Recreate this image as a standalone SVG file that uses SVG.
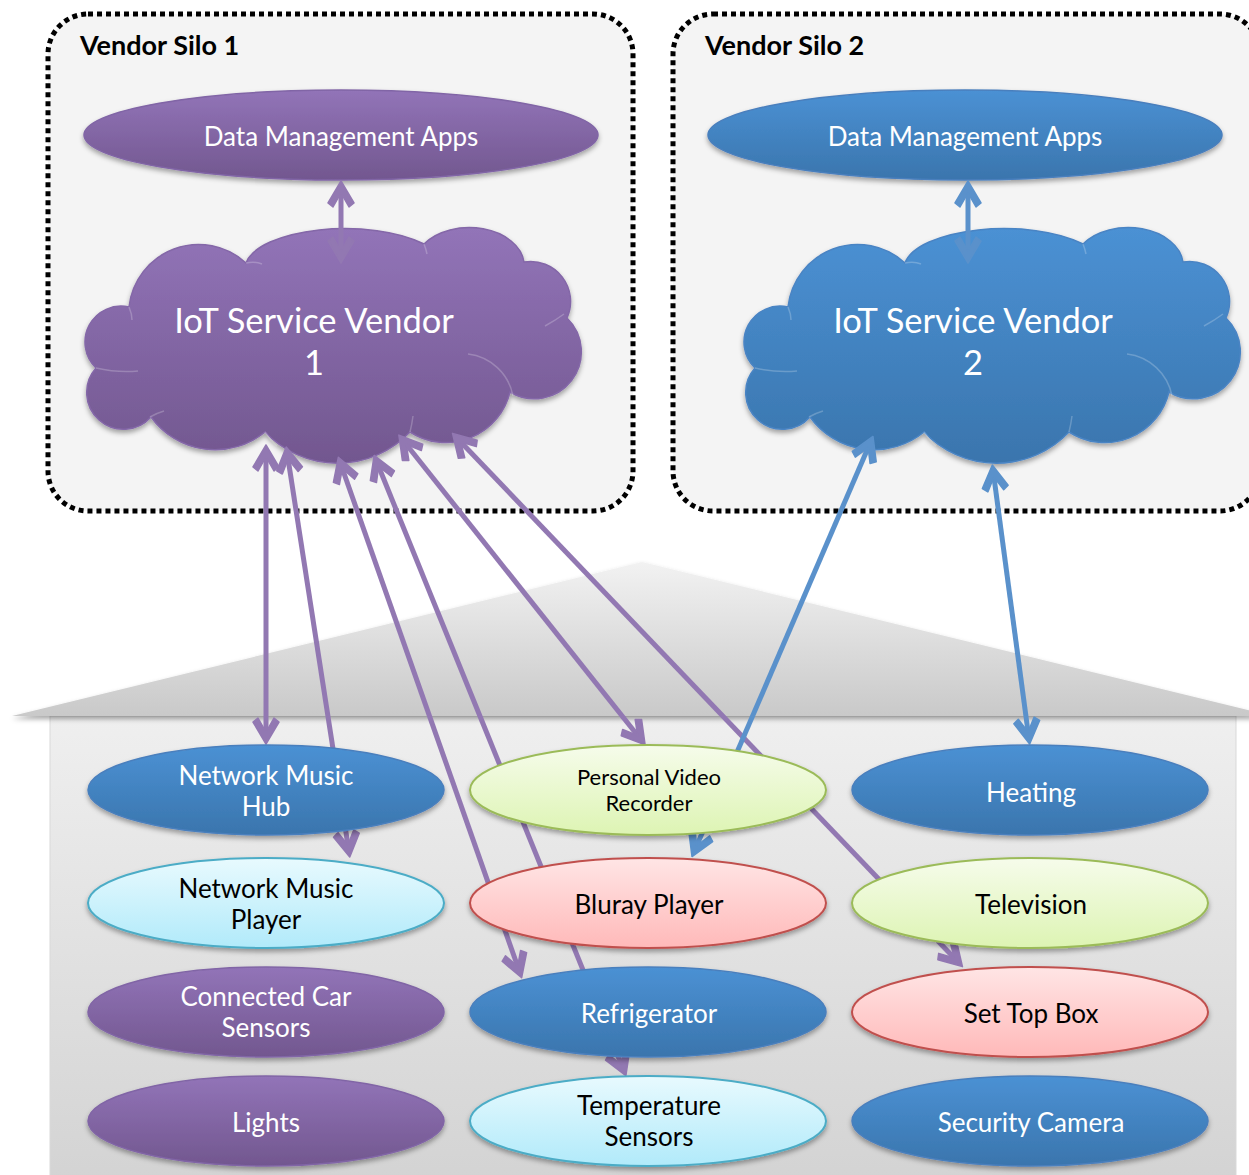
<svg xmlns="http://www.w3.org/2000/svg" width="1249" height="1175" viewBox="0 0 1249 1175">
<style>
  .silo { fill: #f4f4f4; stroke: #000; stroke-width: 5; stroke-dasharray: 5 4; }
  .title { font-family: Lato, "Open Sans", sans-serif; font-weight: bold; font-size: 27px; fill: #000; }
  .lbl { font-family: Lato, "Open Sans", sans-serif; font-size: 26px; text-anchor: middle; }
  .lblS { font-family: Lato, "Open Sans", sans-serif; font-size: 22px; text-anchor: middle; fill: #000; }
  .cloudTxt { font-family: Lato, "Open Sans", sans-serif; font-size: 34.5px; text-anchor: middle; fill: #fff; }
  .w { fill: #fff; }
  .k { fill: #000; }
  .purple { fill: url(#gPurple); stroke: #8165a6; stroke-width: 1.5; filter: url(#sh); }
  .blue { fill: url(#gBlue); stroke: #4a7fbd; stroke-width: 1.5; filter: url(#sh); }
  .cyan { fill: url(#gCyan); stroke: #4bacc6; stroke-width: 2; filter: url(#sh); }
  .green { fill: url(#gGreen); stroke: #9bbb59; stroke-width: 2; filter: url(#sh); }
  .pink { fill: url(#gPink); stroke: #c0504d; stroke-width: 2; filter: url(#sh); }
  .cp { fill: none; stroke: #9278b2; stroke-width: 5; marker-start: url(#mP); marker-end: url(#mP); }
  .cb { fill: none; stroke: #5a91cb; stroke-width: 5; marker-start: url(#mB); marker-end: url(#mB); }
  .inner { fill: none; stroke: #ffffff; stroke-opacity: 0.22; stroke-width: 1.5; }
</style>
<defs>
  <linearGradient id="gPurple" x1="0" y1="0" x2="0" y2="1">
    <stop offset="0" stop-color="#9274b8"/>
    <stop offset="1" stop-color="#72578f"/>
  </linearGradient>
  <linearGradient id="gBlue" x1="0" y1="0" x2="0" y2="1">
    <stop offset="0" stop-color="#4b91d4"/>
    <stop offset="1" stop-color="#3a75ad"/>
  </linearGradient>
  <linearGradient id="gCyan" x1="0" y1="0" x2="0" y2="1">
    <stop offset="0" stop-color="#e8fafe"/>
    <stop offset="1" stop-color="#b1eafa"/>
  </linearGradient>
  <linearGradient id="gGreen" x1="0" y1="0" x2="0" y2="1">
    <stop offset="0" stop-color="#f6fceb"/>
    <stop offset="1" stop-color="#ddf4b3"/>
  </linearGradient>
  <linearGradient id="gPink" x1="0" y1="0" x2="0" y2="1">
    <stop offset="0" stop-color="#ffe5e5"/>
    <stop offset="1" stop-color="#ffb9b9"/>
  </linearGradient>
  <linearGradient id="gRoof" x1="0" y1="0" x2="0" y2="1">
    <stop offset="0" stop-color="#f2f2f2"/>
    <stop offset="1" stop-color="#c9c9c9"/>
  </linearGradient>
  <linearGradient id="gBody" x1="0" y1="0" x2="0" y2="1">
    <stop offset="0" stop-color="#efefef"/>
    <stop offset="1" stop-color="#d3d3d3"/>
  </linearGradient>
  <filter id="sh" x="-10%" y="-20%" width="120%" height="150%">
    <feDropShadow dx="0" dy="3" stdDeviation="2.5" flood-color="#000" flood-opacity="0.35"/>
  </filter>
  <marker id="mP" markerUnits="userSpaceOnUse" viewBox="-24 -15 30 30" refX="0" refY="0" markerWidth="30" markerHeight="30" orient="auto-start-reverse">
    <path d="M5,0 L-17,-13 L-21,-8 L-7,0 L-21,8 L-17,13 Z" fill="#9278b2" stroke="#9278b2" stroke-width="1.5" stroke-linejoin="round"/>
  </marker>
  <marker id="mB" markerUnits="userSpaceOnUse" viewBox="-24 -15 30 30" refX="0" refY="0" markerWidth="30" markerHeight="30" orient="auto-start-reverse">
    <path d="M5,0 L-17,-13 L-21,-8 L-7,0 L-21,8 L-17,13 Z" fill="#5a91cb" stroke="#5a91cb" stroke-width="1.5" stroke-linejoin="round"/>
  </marker>
  <path id="cloudShape" d="M 129 307 A 70 70 0 0 1 246 263 A 100 40 0 0 1 424 244 A 55 38 0 0 1 524 262 A 40 40 0 0 1 567 318 A 47 47 0 0 1 510 392 A 66 66 0 0 1 410 432 A 100 100 0 0 1 265 432 A 79 79 0 0 1 151 417 A 36 36 0 0 1 96 368 A 36 36 0 0 1 129 307 Z"/>
  <g id="cloudInner">
    <path d="M 468 354 A 52 52 0 0 1 513 396"/>
    <path d="M 96 368 Q 118 373 138 371"/>
    <path d="M 150 417 Q 157 413 164 411"/>
    <path d="M 265 432 Q 270 440 277 446"/>
    <path d="M 246 263 Q 255 261 262 264"/>
    <path d="M 424 244 Q 426 249 427 254"/>
    <path d="M 545 326 Q 556 320 564 314"/>
    <path d="M 410 432 Q 412 424 413 416"/>
    <path d="M 129 307 Q 132 314 132 320"/>
  </g>
</defs>

<!-- House -->
<g id="house">
  <rect x="50" y="716" width="1186" height="470" fill="url(#gBody)" stroke="#d9d9d9" stroke-width="1"/>
  <polygon points="12,716 642,562 1272,716" fill="url(#gRoof)" filter="url(#sh)"/>
</g>

<!-- Silos -->
<g id="silo1">
  <rect class="silo" x="48" y="14" width="585" height="497" rx="40" ry="40"/>
  <text class="title" x="80" y="55">Vendor Silo 1</text>
</g>
<g id="silo2">
  <rect class="silo" x="673" y="14" width="587" height="497" rx="40" ry="40"/>
  <text class="title" x="705" y="55">Vendor Silo 2</text>
</g>

<g id="dma1">
  <ellipse class="purple" cx="341" cy="135" rx="257" ry="45"/>
  <text class="lbl w" x="341" y="146">Data Management Apps</text>
</g>
<g id="dma2">
  <ellipse class="blue" cx="965" cy="135" rx="257" ry="45"/>
  <text class="lbl w" x="965" y="146">Data Management Apps</text>
</g>

<g id="cloud1">
  <use href="#cloudShape" fill="url(#gPurple)" stroke="#8467a8" stroke-width="1.5" filter="url(#sh)"/>
  <use href="#cloudInner" class="inner"/>
  <text class="cloudTxt" x="314" y="333">IoT Service Vendor</text>
  <text class="cloudTxt" x="314" y="375">1</text>
</g>
<g id="cloud2">
  <use href="#cloudShape" transform="translate(659,0)" fill="url(#gBlue)" stroke="#4a84c4" stroke-width="1.5" filter="url(#sh)"/>
  <use href="#cloudInner" transform="translate(659,0)" class="inner"/>
  <text class="cloudTxt" x="973" y="333">IoT Service Vendor</text>
  <text class="cloudTxt" x="973" y="375">2</text>
</g>

<!-- Connectors -->
<g id="connectors">
  <path class="cp" d="M341,186 L341,258"/>
  <path class="cb" d="M968,186 L968,258"/>
  <path class="cp" d="M266,450 L266,739"/>
  <path class="cp" d="M287,452 L349,852"/>
  <path class="cp" d="M340,462 L520,973"/>
  <path class="cp" d="M376,460 L624,1071"/>
  <path class="cp" d="M402,439 L642,741"/>
  <path class="cp" d="M456,437 L959,963"/>
  <path class="cb" d="M871,441 L694,852"/>
  <path class="cb" d="M993,470 L1029,739"/>
</g>

<!-- Devices -->
<g id="network-music-hub">
  <ellipse class="blue" cx="266" cy="790" rx="178" ry="45"/>
  <text class="lbl w" x="266" y="785">Network Music</text>
  <text class="lbl w" x="266" y="816">Hub</text>
</g>
<g id="network-music-player">
  <ellipse class="cyan" cx="266" cy="903" rx="178" ry="45"/>
  <text class="lbl k" x="266" y="898">Network Music</text>
  <text class="lbl k" x="266" y="929">Player</text>
</g>
<g id="connected-car-sensors">
  <ellipse class="purple" cx="266" cy="1012" rx="178" ry="45"/>
  <text class="lbl w" x="266" y="1006">Connected Car</text>
  <text class="lbl w" x="266" y="1037">Sensors</text>
</g>
<g id="lights">
  <ellipse class="purple" cx="266" cy="1121" rx="178" ry="45"/>
  <text class="lbl w" x="266" y="1132">Lights</text>
</g>
<g id="personal-video-recorder">
  <ellipse class="green" cx="648" cy="790" rx="178" ry="45"/>
  <text class="lblS" x="649" y="785">Personal Video</text>
  <text class="lblS" x="649" y="811">Recorder</text>
</g>
<g id="bluray-player">
  <ellipse class="pink" cx="648" cy="903" rx="178" ry="45"/>
  <text class="lbl k" x="649" y="914">Bluray Player</text>
</g>
<g id="refrigerator">
  <ellipse class="blue" cx="648" cy="1012" rx="178" ry="45"/>
  <text class="lbl w" x="649" y="1023">Refrigerator</text>
</g>
<g id="temperature-sensors">
  <ellipse class="cyan" cx="648" cy="1121" rx="178" ry="45"/>
  <text class="lbl k" x="649" y="1115">Temperature</text>
  <text class="lbl k" x="649" y="1146">Sensors</text>
</g>
<g id="heating">
  <ellipse class="blue" cx="1030" cy="790" rx="178" ry="45"/>
  <text class="lbl w" x="1031" y="802">Heating</text>
</g>
<g id="television">
  <ellipse class="green" cx="1030" cy="903" rx="178" ry="45"/>
  <text class="lbl k" x="1031" y="914">Television</text>
</g>
<g id="set-top-box">
  <ellipse class="pink" cx="1030" cy="1012" rx="178" ry="45"/>
  <text class="lbl k" x="1031" y="1023">Set Top Box</text>
</g>
<g id="security-camera">
  <ellipse class="blue" cx="1030" cy="1121" rx="178" ry="45"/>
  <text class="lbl w" x="1031" y="1132">Security Camera</text>
</g>
</svg>
